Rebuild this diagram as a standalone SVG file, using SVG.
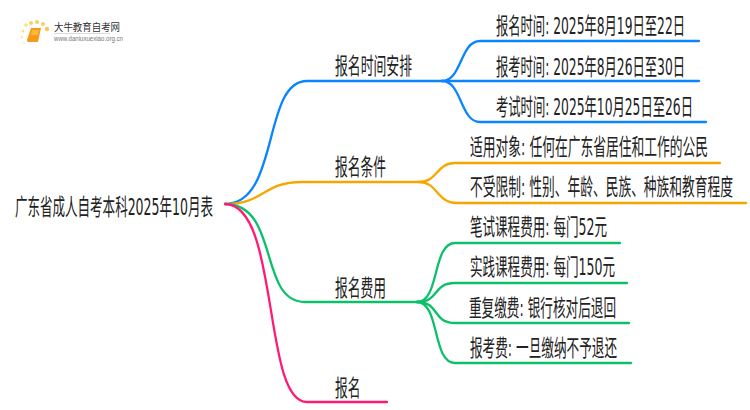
<svg xmlns="http://www.w3.org/2000/svg" width="750" height="410" viewBox="0 0 750 410">
<style>
text{font-family:"DejaVu Sans","Noto Sans CJK SC",sans-serif;fill:#222}
.t{font-size:13px}
.c{fill:none;stroke-width:2.3;stroke-linecap:round}
.b{stroke:#0a84ff}.o{stroke:#f7a600}.g{stroke:#0cc06a}.p{stroke:#ff1a75}
</style>
<rect width="750" height="410" fill="#fff"/>
<g id="logo">
<circle cx="47" cy="29" r="2.2" fill="#fbc64a"/><circle cx="43" cy="24" r="2" fill="#fcd060"/><circle cx="37" cy="22" r="2" fill="#fcd060"/><circle cx="31" cy="23" r="2" fill="#fcd060"/><circle cx="26" cy="25" r="1.8" fill="#fde08a"/><circle cx="23" cy="31" r="1.5" fill="#fde08a"/><circle cx="22" cy="37" r="1.3" fill="#fde8b0"/><circle cx="24" cy="43" r="1" fill="#fde8b0"/>
<path d="M31 28h10l-3 14H28q-1 0-1-2z" fill="#f59a1b"/><path d="M32 30h7l-1 5h-7z" fill="#fbb93a"/>
<text x="54" y="31" font-size="10" textLength="66" lengthAdjust="spacingAndGlyphs" style="fill:#333">大牛教育自考网</text>
<rect x="54" y="33" width="56" height="0.7" fill="#ccc"/>
<text x="54" y="40.500" textLength="69" lengthAdjust="spacingAndGlyphs" style="font-family:'Liberation Sans',sans-serif;font-size:6.500px;fill:#777">www.daniuxuexiao.org.cn</text>
</g>
<g id="connectors">
<path class="c b" d="M225 204C280 204 262 81 307 81H442"/>
<path class="c b" d="M442 81C462 81 460 41 480 41H699"/>
<path class="c b" d="M442 81H699"/>
<path class="c b" d="M442 81C462 81 460 122 480 122H706"/>
<path class="c o" d="M225 204C265 204 262 182 302 182H419"/>
<path class="c o" d="M419 182C438 182 436 163 455 163H720"/>
<path class="c o" d="M419 182C438 182 436 203 457 203H746"/>
<path class="c g" d="M225 204C280 204 258 302 305 302H417"/>
<path class="c g" d="M417 302C440 302 432 243 455 243H620"/>
<path class="c g" d="M417 302C440 302 432 283 455 283H627"/>
<path class="c g" d="M417 302C440 302 432 323 455 323H629"/>
<path class="c g" d="M417 302C440 302 432 363 455 363H631"/>
<path class="c p" d="M225 204C280 204 262 402 307 402H387"/>
</g>
<g id="root"><text class="t" transform="translate(15 215) scale(1 1.78)" textLength="198" lengthAdjust="spacingAndGlyphs">广东省成人自考本科2025年10月表</text></g>
<g id="n1"><text class="t" transform="translate(335 74) scale(1 1.78)" textLength="77" lengthAdjust="spacingAndGlyphs">报名时间安排</text></g>
<g id="n2"><text class="t" transform="translate(335 175) scale(1 1.78)" textLength="51" lengthAdjust="spacingAndGlyphs">报名条件</text></g>
<g id="n3"><text class="t" transform="translate(335 296) scale(1 1.78)" textLength="51" lengthAdjust="spacingAndGlyphs">报名费用</text></g>
<g id="n4"><text class="t" transform="translate(335 396) scale(1 1.78)" textLength="25.500" lengthAdjust="spacingAndGlyphs">报名</text></g>
<g id="n11"><text class="t" transform="translate(496 34) scale(1 1.78)" textLength="189" lengthAdjust="spacingAndGlyphs">报名时间: 2025年8月19日至22日</text></g>
<g id="n12"><text class="t" transform="translate(496 75) scale(1 1.78)" textLength="189" lengthAdjust="spacingAndGlyphs">报考时间: 2025年8月26日至30日</text></g>
<g id="n13"><text class="t" transform="translate(496 115) scale(1 1.78)" textLength="197" lengthAdjust="spacingAndGlyphs">考试时间: 2025年10月25日至26日</text></g>
<g id="n21"><text class="t" transform="translate(470 155) scale(1 1.78)" textLength="238" lengthAdjust="spacingAndGlyphs">适用对象: 任何在广东省居住和工作的公民</text></g>
<g id="n22"><text class="t" transform="translate(470 195) scale(1 1.78)" textLength="263" lengthAdjust="spacingAndGlyphs">不受限制: 性别、年龄、民族、种族和教育程度</text></g>
<g id="n31"><text class="t" transform="translate(470 235) scale(1 1.78)" textLength="137" lengthAdjust="spacingAndGlyphs">笔试课程费用: 每门52元</text></g>
<g id="n32"><text class="t" transform="translate(470 275) scale(1 1.78)" textLength="145" lengthAdjust="spacingAndGlyphs">实践课程费用: 每门150元</text></g>
<g id="n33"><text class="t" transform="translate(469 316) scale(1 1.78)" textLength="147" lengthAdjust="spacingAndGlyphs">重复缴费: 银行核对后退回</text></g>
<g id="n34"><text class="t" transform="translate(470 356) scale(1 1.78)" textLength="147" lengthAdjust="spacingAndGlyphs">报考费: 一旦缴纳不予退还</text></g>
</svg>
